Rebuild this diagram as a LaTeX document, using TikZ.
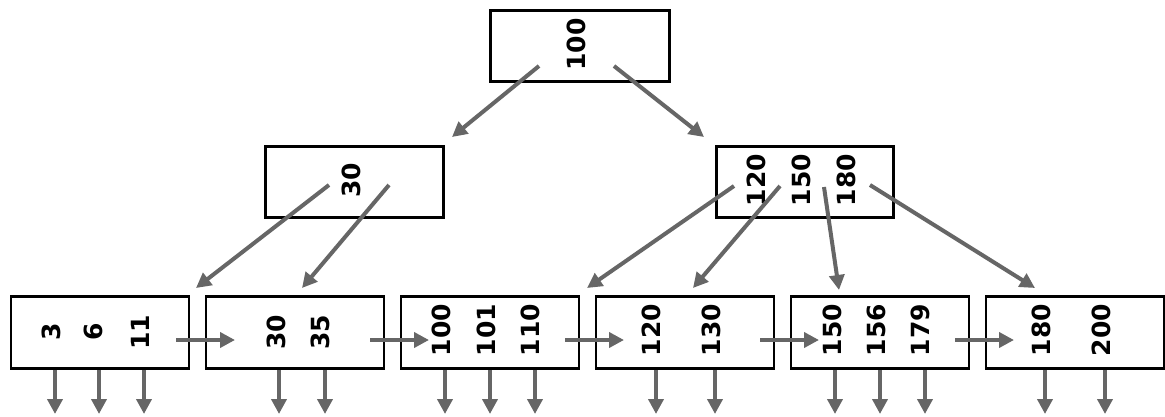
\documentclass[tikz,border=0pt]{standalone}
\usepackage{fontspec}
\setsansfont{DejaVu Sans}
\usetikzlibrary{arrows.meta}
\definecolor{arrgray}{HTML}{666666}
\tikzset{
  keybox/.style={draw=black,line width=2.8pt,rectangle,inner sep=0pt,outer sep=0pt,fill=white},
  bbox/.style={keybox,minimum width=178pt,minimum height=72pt},
  key/.style={inner sep=0pt,rotate=90,font=\fontsize{25}{25}\sffamily\bfseries},
  arr/.style={draw=arrgray,line width=4pt,-{Triangle[length=15pt,width=15pt]},arrgray,shorten >=0pt}
}
\begin{document}
\begin{tikzpicture}[x=1pt,y=-1pt]
\useasboundingbox (0,0) rectangle (1165,416);
% boxes
\node[keybox,minimum width=179pt,minimum height=71.5pt] (root) at (580,46) {};
\node[keybox,minimum width=177.5pt,minimum height=71.5pt] (ml) at (354.5,182) {};
\node[keybox,minimum width=177.5pt,minimum height=71.5pt] (mr) at (805,182) {};
\node[bbox] (b1) at (100,332.5) {};
\node[bbox] (b2) at (295,332.5) {};
\node[bbox] (b3) at (490,332.5) {};
\node[bbox] (b4) at (685,332.5) {};
\node[bbox] (b5) at (880,332.5) {};
\node[bbox] (b6) at (1075,332.5) {};
% keys
\node[key] (k100) at (576,44.5) {100};
\node[key] (k30) at (351,180) {30};
\node[key] (k120) at (756,180) {120};
\node[key] (k150) at (801,180) {150};
\node[key] (k180) at (846,180) {180};
\node[key] (a3) at (51,332) {3};
\node[key] (a6) at (93.5,332) {6};
\node[key] (a11) at (140.5,332) {11};
\node[key] (a30) at (276.5,332) {30};
\node[key] (a35) at (320,332) {35};
\node[key] (a100) at (441,330) {100};
\node[key] (a101) at (486,330) {101};
\node[key] (a110) at (530,330) {110};
\node[key] (a120) at (651,330) {120};
\node[key] (a130) at (711,330) {130};
\node[key] (a150) at (832,330) {150};
\node[key] (a156) at (876.5,330) {156};
\node[key] (a179) at (920.5,330) {179};
\node[key] (a180) at (1041,330) {180};
\node[key] (a200) at (1101,330) {200};
% connector end points
\coordinate (r1s) at (539,66);  \coordinate (r1t) at (452,137);
\coordinate (r2s) at (614,66);  \coordinate (r2t) at (704,137);
\coordinate (l1s) at (329,185); \coordinate (l1t) at (196,288);
\coordinate (l2s) at (389,185); \coordinate (l2t) at (302,288);
\coordinate (q1s) at (734,186); \coordinate (q1t) at (587,288);
\coordinate (q2s) at (780,186); \coordinate (q2t) at (693,288);
\coordinate (q3s) at (824,187); \coordinate (q3t) at (839,290);
\coordinate (q4s) at (870,185); \coordinate (q4t) at (1035,288);
\draw[arr] (r1s) -- (r1t);
\draw[arr] (r2s) -- (r2t);
\draw[arr] (l1s) -- (l1t);
\draw[arr] (l2s) -- (l2t);
\draw[arr] (q1s) -- (q1t);
\draw[arr] (q2s) -- (q2t);
\draw[arr] (q3s) -- (q3t);
\draw[arr] (q4s) -- (q4t);
% sibling links
\foreach \s/\x in {1/176,2/370,3/565,4/760,5/955}{
  \coordinate (h\s s) at (\x,340);
  \coordinate (h\s t) at (\x+59,340);
  \draw[arr] (h\s s) -- (h\s t);
}
% child pointers
\foreach \i/\x in {1/55,2/99,3/144,4/279,5/325,6/445,7/490,8/535,9/656,10/715,11/835,12/880,13/925,14/1045,15/1105}{
  \coordinate (d\i s) at (\x,370);
  \coordinate (d\i t) at (\x,414);
  \draw[arr] (d\i s) -- (d\i t);
}
\end{tikzpicture}
\end{document}
